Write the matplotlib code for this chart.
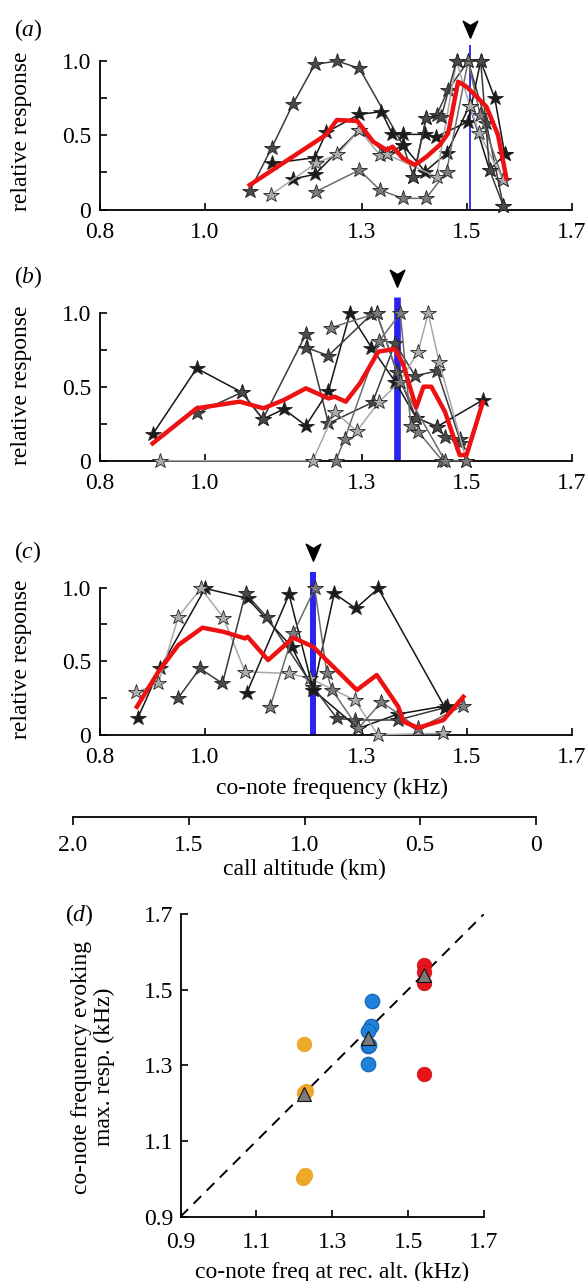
import matplotlib
matplotlib.use("Agg")
import matplotlib.pyplot as plt
from matplotlib.path import Path

plt.rcParams["font.family"] = ["Liberation Serif", "DejaVu Serif"]
plt.rcParams["mathtext.fontset"] = "custom"
plt.rcParams["mathtext.rm"] = "Liberation Serif"
plt.rcParams["mathtext.it"] = "Liberation Serif:italic"

# ---- panel (a): individual tuning curves (co-note freq kHz, relative response)
a_freq = [
    [1.086, 1.128, 1.168, 1.210, 1.253, 1.295, 1.378, 1.398, 1.422, 1.442, 1.464, 1.502, 1.537, 1.569],
    [1.128, 1.210, 1.232, 1.295, 1.337, 1.358, 1.378, 1.420, 1.441, 1.502, 1.526, 1.553, 1.572],
    [1.168, 1.210, 1.295, 1.347, 1.378, 1.420, 1.461, 1.505, 1.543, 1.572],
    [1.212, 1.295, 1.334, 1.378, 1.422, 1.461, 1.502, 1.525, 1.569],
    [1.126, 1.212, 1.253, 1.295, 1.334, 1.347, 1.442, 1.480, 1.505, 1.523, 1.569],
    [1.398, 1.422, 1.451, 1.480, 1.526, 1.543, 1.569],
]
a_resp = [
    [0.125, 0.416, 0.708, 0.977, 1.0, 0.95, 0.434, 0.221, 0.614, 0.636, 0.805, 1.0, 0.58, 0.026],
    [0.311, 0.349, 0.52, 0.641, 0.659, 0.506, 0.506, 0.506, 0.49, 0.591, 1.0, 0.748, 0.371],
    [0.205, 0.237, 0.535, 0.371, 0.434, 0.255, 0.378, 0.70, 0.266, 0.371],
    [0.12, 0.266, 0.131, 0.075, 0.075, 0.255, 1.0, 0.636, 0.199],
    [0.098, 0.311, 0.371, 0.535, 0.367, 0.371, 0.221, 1.0, 0.70, 0.513, 0.199],
    [0.221, 0.614, 0.625, 1.0, 1.0, 0.266, 0.026],
]
a_mean_freq = [1.086, 1.231, 1.252, 1.291, 1.321, 1.347, 1.358, 1.378, 1.401, 1.423,
               1.448, 1.464, 1.483, 1.499, 1.512, 1.537, 1.559, 1.575]
a_mean_resp = [0.165, 0.502, 0.603, 0.596, 0.457, 0.40, 0.423, 0.344, 0.30, 0.356,
               0.434, 0.513, 0.861, 0.827, 0.782, 0.692, 0.502, 0.21]
a_rec_freq = 1.505

# ---- panel (b)
b_freq = [
    [0.901, 0.985, 1.071, 1.111, 1.151, 1.193, 1.236, 1.277, 1.318, 1.363, 1.403, 1.443, 1.530],
    [0.985, 1.071, 1.111, 1.193, 1.236, 1.320, 1.363, 1.401, 1.443, 1.486],
    [1.194, 1.236, 1.318, 1.328, 1.366, 1.403, 1.443, 1.458, 1.486],
    [0.915, 1.206, 1.248, 1.290, 1.333, 1.371, 1.407, 1.426, 1.447, 1.499],
    [1.250, 1.267, 1.333, 1.373, 1.393, 1.407, 1.453],
    [1.241, 1.328, 1.373, 1.458, 1.499],
]
b_resp = [
    [0.178, 0.624, 0.462, 0.281, 0.349, 0.237, 0.471, 0.996, 0.764, 0.534, 0.291, 0.23, 0.41],
    [0.32, 0.462, 0.281, 0.854, 0.252, 0.394, 0.793, 0.574, 0.606, 0.147],
    [0.764, 0.71, 0.989, 0.996, 0.601, 0.291, 0.23, 0.162, 0.12],
    [0.0, 0.0, 0.331, 0.20, 0.40, 0.53, 0.737, 0.996, 0.664, 0.0],
    [0.0, 0.147, 0.81, 0.996, 0.237, 0.196, 0.0],
    [0.899, 0.996, 0.53, 0.0, 0.0],
]
b_mean_freq = [0.901, 0.985, 1.067, 1.112, 1.151, 1.193, 1.236, 1.248, 1.269, 1.296,
               1.331, 1.363, 1.379, 1.403, 1.417, 1.432, 1.458, 1.486, 1.499, 1.530]
b_mean_resp = [0.117, 0.354, 0.399, 0.354, 0.41, 0.489, 0.421, 0.432, 0.399, 0.523,
               0.737, 0.755, 0.646, 0.358, 0.5, 0.5, 0.331, 0.038, 0.038, 0.394]
b_rec_freq = 1.367

# ---- panel (c)
c_freq = [
    [0.873, 0.915, 1.001, 1.082, 1.166, 1.207, 1.293, 1.368, 1.461],
    [0.869, 0.912, 0.950, 0.993, 1.036, 1.077, 1.160, 1.201, 1.286, 1.330, 1.455],
    [0.950, 0.991, 1.034, 1.078, 1.118, 1.207, 1.252, 1.286, 1.368, 1.458],
    [1.080, 1.161, 1.207, 1.247, 1.288, 1.331, 1.458],
    [1.125, 1.169, 1.210, 1.233, 1.243, 1.293, 1.337, 1.407, 1.493],
]
c_resp = [
    [0.115, 0.451, 0.995, 0.927, 0.598, 0.304, 0.043, 0.14, 0.197],
    [0.288, 0.349, 0.803, 0.995, 0.796, 0.428, 0.417, 0.383, 0.236, 0.0, 0.009],
    [0.251, 0.451, 0.349, 0.961, 0.803, 0.326, 0.111, 0.10, 0.10, 0.184],
    [0.281, 0.954, 0.304, 0.961, 0.859, 0.995, 0.184],
    [0.19, 0.689, 0.995, 0.417, 0.304, 0.043, 0.224, 0.043, 0.197],
]
c_mean_freq = [0.871, 0.912, 0.950, 0.996, 1.036, 1.077, 1.082, 1.121, 1.169, 1.207,
               1.229, 1.255, 1.290, 1.328, 1.369, 1.379, 1.407, 1.455, 1.493]
c_mean_resp = [0.190, 0.428, 0.61, 0.728, 0.70, 0.655, 0.666, 0.508, 0.66, 0.598,
               0.519, 0.428, 0.304, 0.406, 0.19, 0.088, 0.047, 0.10, 0.258]
c_rec_freq = 1.206

freq_ticks = [0.8, 1.0, 1.3, 1.5, 1.7]
alt_ticks = [2.0, 1.5, 1.0, 0.5, 0]
alt_labels = ["2.0", "1.5", "1.0", "0.5", "0"]

# ---- panel (d)
orange_x = [1.225, 1.225, 1.232, 1.222, 1.229]
orange_y = [1.357, 1.226, 1.231, 1.001, 1.010]
blue_x = [1.405, 1.403, 1.393, 1.393, 1.398, 1.393]
blue_y = [1.471, 1.404, 1.391, 1.350, 1.355, 1.303]
red_x = [1.541, 1.541, 1.541, 1.541]
red_y = [1.564, 1.548, 1.517, 1.276]
mean_x = [1.225, 1.395, 1.541]
mean_y = [1.225, 1.372, 1.539]
d_ticks = [0.9, 1.1, 1.3, 1.5, 1.7]

# styles
a_shades = ["d", "k", "k", "g", "l", "d"]
b_shades = ["k", "d", "d", "l", "g", "g"]
c_shades = ["k", "l", "d", "k", "g"]
face = {"k": "#1c1c1c", "d": "#4a4a4a", "g": "#7c7c7c", "l": "#ababab"}
linec = {"k": "#151515", "d": "#3a3a3a", "g": "#6c6c6c", "l": "#a8a8a8"}

arrow = Path([(0, -1), (-0.75, 0.75), (0, 0.3), (0.75, 0.75), (0, -1)],
             [Path.MOVETO, Path.LINETO, Path.LINETO, Path.LINETO, Path.CLOSEPOLY])

W, H = 587, 1281
FS_TICK = 17
FS_LAB = 17
fig = plt.figure(figsize=(W / 100, H / 100), dpi=100)


def box(x0, x1, ybot, ytop):
    return [x0 / W, 1 - ybot / H, (x1 - x0) / W, (ybot - ytop) / H]


def tuning_panel(rect, freqs, resps, shades, mfreq, mresp, rec, bar_lw, label, label_y, arrow_y):
    ax = fig.add_axes(rect)
    ax.set_xlim(0.8, 1.7)
    ax.set_ylim(0, 1.0)
    for s in ["top", "right"]:
        ax.spines[s].set_visible(False)
    ax.spines["left"].set_linewidth(1.3)
    ax.spines["bottom"].set_linewidth(1.3)
    ax.set_xticks(freq_ticks)
    ax.set_xticklabels([f"{t:.1f}" for t in freq_ticks])
    ax.set_yticks([0, 0.5, 1.0])
    ax.set_yticklabels(["0", "0.5", "1.0"])
    ax.set_yticks([0.25, 0.75], minor=True)
    ax.tick_params(which="both", direction="in", length=5, width=1.2, labelsize=FS_TICK)
    ax.tick_params(axis="x", pad=9)
    ax.tick_params(axis="y", pad=6)
    ax.vlines(rec, 0, 1.105, color="#2a22f0", lw=bar_lw, zorder=1, clip_on=False)
    for fx, ry, sh in zip(freqs, resps, shades):
        ax.plot(fx, ry, color=linec[sh], lw=1.1, marker="*", ms=11.5,
                mfc=face[sh], mec="#222222", mew=0.6, zorder=3, clip_on=False)
    ax.plot(mfreq, mresp, color="#ee1111", lw=3.2, zorder=5, solid_joinstyle="round",
            clip_on=False)
    ax.plot([rec], [arrow_y], marker=arrow, ms=14, color="black", clip_on=False)
    fig.text(28 / W, 1 - label_y / H, label, fontsize=FS_LAB, ha="center", va="center")
    return ax


ax_a = tuning_panel(box(99.6, 572, 209.5, 61), a_freq, a_resp, a_shades,
                    a_mean_freq, a_mean_resp, a_rec_freq, 1.3, r"$(\mathit{a})$", 30, 1.22)
ax_b = tuning_panel(box(99.6, 572, 460.7, 312.7), b_freq, b_resp, b_shades,
                    b_mean_freq, b_mean_resp, b_rec_freq, 4.8, r"$(\mathit{b})$", 277, 1.24)
ax_c = tuning_panel(box(99.6, 572, 734.7, 587.7), c_freq, c_resp, c_shades,
                    c_mean_freq, c_mean_resp, c_rec_freq, 4.3, r"$(\mathit{c})$", 552, 1.25)

for yc in [131, 385, 659]:
    fig.text(22 / W, 1 - yc / H, "relative response", rotation=90, fontsize=FS_LAB,
             ha="center", va="center")
fig.text(332 / W, 1 - 788 / H, "co-note frequency (kHz)", fontsize=FS_LAB,
         ha="center", va="center")

# altitude scale
ax_alt = fig.add_axes([73 / W, 1 - 817 / H, 463 / W, 0.0005])
ax_alt.set_xlim(2.0, 0)
for s in ["top", "right", "left"]:
    ax_alt.spines[s].set_visible(False)
ax_alt.spines["bottom"].set_linewidth(1.3)
ax_alt.set_yticks([])
ax_alt.set_xticks(alt_ticks)
ax_alt.set_xticklabels(alt_labels)
ax_alt.tick_params(axis="x", direction="out", length=6, width=1.2, labelsize=FS_TICK, pad=7)
fig.text(304 / W, 1 - 869 / H, "call altitude (km)", fontsize=FS_LAB, ha="center", va="center")

# panel (d)
ax_d = fig.add_axes(box(180.5, 484, 1216.7, 914))
ax_d.set_xlim(0.9, 1.7)
ax_d.set_ylim(0.9, 1.7)
for s in ["top", "right"]:
    ax_d.spines[s].set_visible(False)
ax_d.spines["left"].set_linewidth(1.3)
ax_d.spines["bottom"].set_linewidth(1.3)
ax_d.set_xticks(d_ticks)
ax_d.set_yticks(d_ticks)
ax_d.set_xticklabels([f"{t:.1f}" for t in d_ticks])
ax_d.set_yticklabels([f"{t:.1f}" for t in d_ticks])
ax_d.tick_params(direction="in", length=5, width=1.2, labelsize=FS_TICK)
ax_d.tick_params(axis="x", pad=11)
ax_d.tick_params(axis="y", pad=5)
ax_d.plot([0.9, 1.7], [0.9, 1.7], color="black", lw=1.4, ls=(0, (5.5, 4)), zorder=1)
ax_d.plot(orange_x, orange_y, "o", ms=10.5, mfc="#f0a828", mec="#e8a020", mew=0.5, zorder=3)
ax_d.plot(blue_x, blue_y, "o", ms=10.5, mfc="#1e82dc", mec="#1560b0", mew=0.8, zorder=3)
ax_d.plot(red_x, red_y, "o", ms=10.5, mfc="#e8141c", mec="#c81018", mew=0.5, zorder=3)
ax_d.plot(mean_x, mean_y, "^", ms=10.5, mfc="#7a7a7a", mec="#111111", mew=0.8, zorder=4)
fig.text(79 / W, 1 - 915 / H, r"$(\mathit{d})$", fontsize=FS_LAB, ha="center", va="center")
fig.text(93 / W, 1 - 1067 / H, "co-note frequency evoking\nmax. resp. (kHz)", rotation=90,
         fontsize=FS_LAB, ha="center", va="center", linespacing=1.1, multialignment="center")
fig.text(332 / W, 1 - 1272 / H, "co-note freq at rec. alt. (kHz)", fontsize=FS_LAB,
         ha="center", va="center")

fig.savefig("out.png", dpi=100)
